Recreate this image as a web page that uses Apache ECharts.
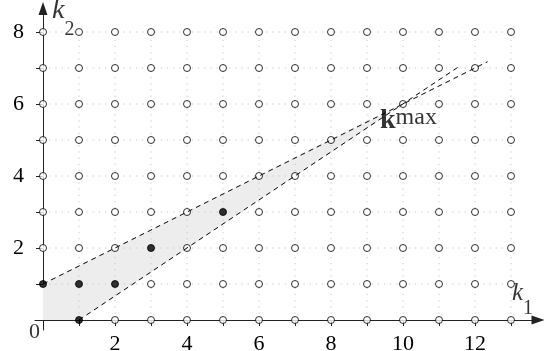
<!DOCTYPE html>
<html>
<head>
<meta charset="utf-8">
<script src="https://cdn.jsdelivr.net/npm/echarts@6/dist/echarts.min.js"></script>
<style>
html,body{margin:0;padding:0;background:#fff;}
#c{width:549px;height:351px;}
</style>
</head>
<body>
<div id="c"></div>
<script>
// ---- data ----
var k1Values = [0,1,2,3,4,5,6,7,8,9,10,11,12,13];
var k2Values = [0,1,2,3,4,5,6,7,8];
var xTickLabels = [2,4,6,8,10,12];
var yTickLabels = [2,4,6,8];
var filledPoints = [[0,1],[1,0],[1,1],[2,1],[3,2],[5,3]];
var regionVertices = [[0,0],[1,0],[10,6],[0,1]];
var upperLine = [[0,1],[12.35,7.175]];
var lowerLine = [[1,0],[11.6,7.07]];
var kmaxPoint = [10,6];

// ---- derived ----
function isFilled(p){ return filledPoints.some(function(f){return f[0]===p[0]&&f[1]===p[1];}); }
var openPoints = [];
k1Values.forEach(function(a){ k2Values.forEach(function(b){
  if (a===0 && b===0) return;
  if (!isFilled([a,b])) openPoints.push([a,b]);
});});
var k1Max = k1Values[k1Values.length-1], k2Max = k2Values[k2Values.length-1];
var gridSegs = [];
k2Values.slice(1).forEach(function(b){ gridSegs.push([0,b,k1Max,b]); });
k1Values.slice(1).forEach(function(a){ gridSegs.push([a,0,a,k2Max]); });

var FONT = 'Liberation Serif';
var chart = echarts.init(document.getElementById('c'), null, {renderer:'canvas'});
chart.setOption({
  animation:false,
  backgroundColor:'#fff',
  textStyle:{fontFamily:FONT},
  grid:{left:35, top:8.5, width:503, height:321.5, containLabel:false, outerBoundsMode:'none'},
  xAxis:{
    type:'value', min:-8/36, max:495/36,
    axisLine:{onZero:true, lineStyle:{color:'#222', width:1}, symbol:['none','triangle'], symbolSize:[9,13]},
    axisTick:{customValues:k1Values.slice(1), length:6, lineStyle:{color:'#222'}},
    axisLabel:{customValues:xTickLabels, fontFamily:FONT, fontSize:22, color:'#000', margin:3},
    splitLine:{show:false}
  },
  yAxis:{
    type:'value', min:-10/36, max:311.5/36,
    axisLine:{onZero:true, lineStyle:{color:'#222', width:1}, symbol:['none','triangle'], symbolSize:[9,13]},
    axisTick:{customValues:k2Values.slice(1), length:7, lineStyle:{color:'#222'}},
    axisLabel:{customValues:yTickLabels, fontFamily:FONT, fontSize:22, color:'#000', margin:11},
    splitLine:{show:false}
  },
  series:[
    {
      type:'custom', z:1, silent:true,
      data:[0],
      renderItem:function(params, api){
        var pts = regionVertices.map(function(v){ return api.coord(v); });
        return {type:'polygon', shape:{points:pts}, style:{fill:'#ededed'}};
      }
    },
    {
      type:'custom', z:2, silent:true,
      data:gridSegs,
      encode:{x:[0,2], y:[1,3]},
      renderItem:function(params, api){
        var p1 = api.coord([api.value(0), api.value(1)]);
        var p2 = api.coord([api.value(2), api.value(3)]);
        return {type:'line', shape:{x1:p1[0],y1:p1[1],x2:p2[0],y2:p2[1]},
          style:{stroke:'#c4c4c4', lineWidth:1, lineDash:[1.2,5]}};
      }
    },
    {
      type:'scatter', z:3, data:openPoints, symbol:'circle', symbolSize:7,
      itemStyle:{color:'#fff', borderColor:'#000', borderWidth:1}
    },
    {
      type:'scatter', z:3, data:filledPoints, symbol:'circle', symbolSize:7,
      itemStyle:{color:'#000', borderColor:'#000', borderWidth:1}
    },
    {
      type:'line', z:4, data:upperLine, symbol:'none',
      lineStyle:{color:'#000', width:1, type:[5,4]}
    },
    {
      type:'line', z:4, data:lowerLine, symbol:'none',
      lineStyle:{color:'#000', width:1, type:[5,4]}
    },
    {
      type:'scatter', z:5, symbolSize:0, silent:true,
      data:[
        {value:[0,0], label:{formatter:'0', align:'right', verticalAlign:'middle', offset:[-3,12],
          fontFamily:FONT, fontSize:22, color:'#000'}},
        {value:[0,k2Max], label:{formatter:'{i|k}{s|2}', align:'left', verticalAlign:'bottom', offset:[9,-6],
          rich:{i:{fontFamily:FONT, fontStyle:'italic', fontSize:28, color:'#000', lineHeight:30},
                s:{fontFamily:FONT, fontSize:20, color:'#000', verticalAlign:'bottom', lineHeight:20, padding:[0,0,-14,0]}}}},
        {value:[k1Max,0], label:{formatter:'{i|k}{s|1}', align:'left', verticalAlign:'bottom', offset:[1,-13],
          rich:{i:{fontFamily:FONT, fontStyle:'italic', fontSize:25, color:'#000', lineHeight:28},
                s:{fontFamily:FONT, fontSize:20, color:'#000', verticalAlign:'bottom', lineHeight:20, padding:[0,0,-12,0]}}}},
        {value:kmaxPoint, label:{formatter:'{b|k}{s|max}', align:'left', verticalAlign:'top', offset:[-23,2],
          rich:{b:{fontFamily:FONT, fontWeight:'bold', fontSize:28, color:'#000', lineHeight:30},
                s:{fontFamily:FONT, fontSize:24, color:'#000', verticalAlign:'top', lineHeight:24}}}}
      ],
      label:{show:true, position:[0,0]}
    }
  ]
});
</script>
</body>
</html>
